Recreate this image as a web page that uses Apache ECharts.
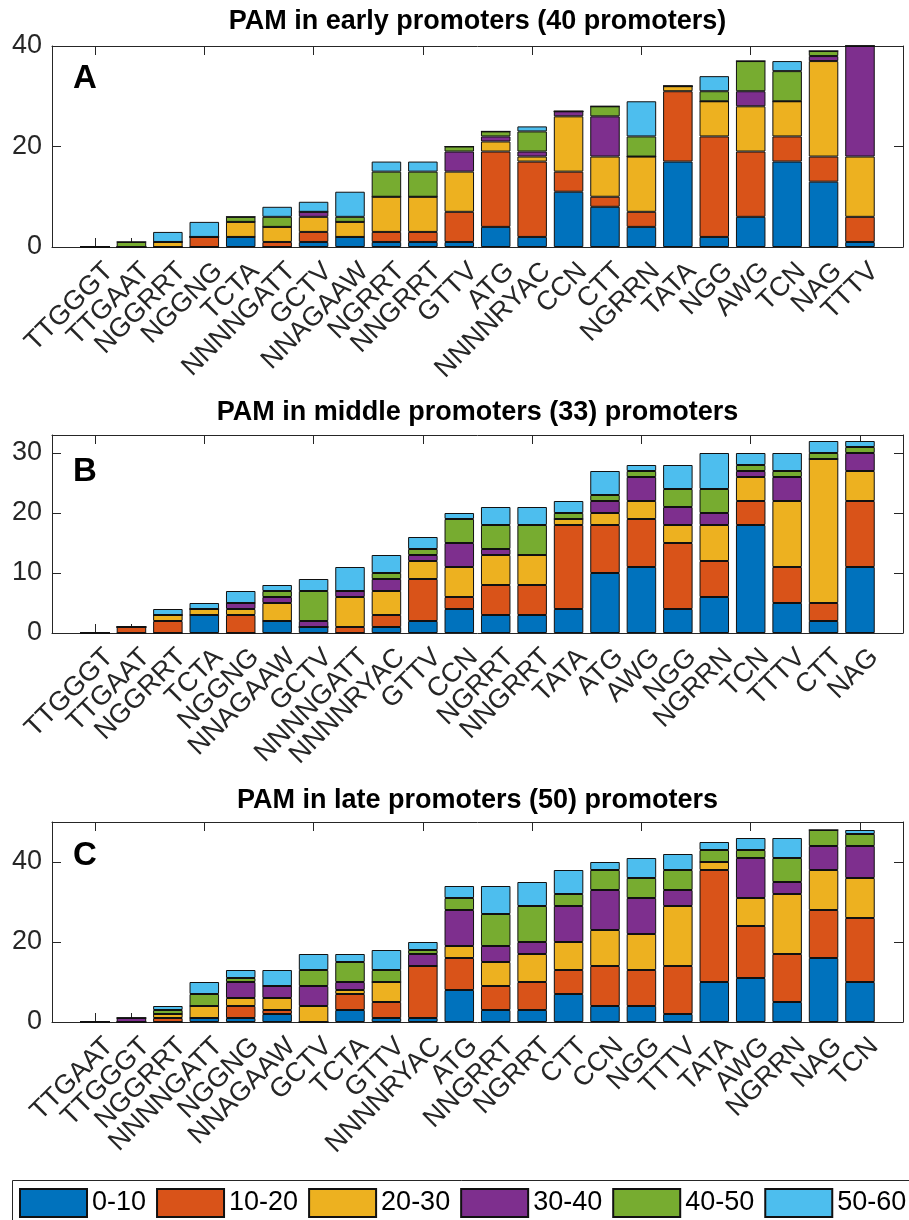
<!DOCTYPE html>
<html>
<head>
<meta charset="utf-8">
<script src="https://cdn.jsdelivr.net/npm/echarts@6/dist/echarts.min.js"></script>
<style>
html,body{margin:0;padding:0;background:#fff;}
#c{width:909px;height:1220px;}
</style>
</head>
<body>
<div id="c"></div>
<script>
// ---------- data ----------
const binNames = ['0-10', '10-20', '20-30', '30-40', '40-50', '50-60'];

const earlyCats = ['TTGGGT','TTGAAT','NGGRRT','NGGNG','TCTA','NNNNGATT','GCTV','NNAGAAW','NGRRT','NNGRRT','GTTV','ATG','NNNNRYAC','CCN','CTT','NGRRN','TATA','NGG','AWG','TCN','NAG','TTTV'];
const early_0_10  = [0,0,0,0,2,0,1,2,1,1,1,4,2,11,8,4,17,2,6,17,13,1];
const early_10_20 = [0,0,0,2,0,1,2,0,2,2,6,15,15,4,2,3,14,20,13,5,5,5];
const early_20_30 = [0,0,1,0,3,3,3,3,7,7,8,2,1,11,8,11,1,7,9,7,19,12];
const early_30_40 = [0,0,0,0,0,0,1,0,0,0,4,1,1,1,8,0,0,0,3,0,1,22];
const early_40_50 = [0,1,0,0,1,2,0,1,5,5,1,1,4,0,2,4,0,2,6,6,1,0];
const early_50_60 = [0,0,2,3,0,2,2,5,2,2,0,0,1,0,0,7,0,3,0,2,0,0];

const middleCats = ['TTGGGT','TTGAAT','NGGRRT','TCTA','NGGNG','NNAGAAW','GCTV','NNNNGATT','NNNNRYAC','GTTV','CCN','NGRRT','NNGRRT','TATA','ATG','AWG','NGG','NGRRN','TCN','TTTV','CTT','NAG'];
const middle_0_10  = [0,0,0,3,0,2,1,0,1,2,4,3,3,4,10,11,4,6,18,5,2,11];
const middle_10_20 = [0,1,2,0,3,0,0,1,2,7,2,5,5,14,8,8,11,6,4,6,3,11];
const middle_20_30 = [0,0,1,1,1,3,0,5,4,3,5,5,5,1,2,3,3,6,4,11,24,5];
const middle_30_40 = [0,0,0,0,1,1,1,1,2,1,4,1,0,0,2,4,3,2,1,4,0,3];
const middle_40_50 = [0,0,0,0,0,1,5,0,1,1,4,4,5,1,1,1,3,4,1,1,1,1];
const middle_50_60 = [0,0,1,1,2,1,2,4,3,2,1,3,3,2,4,1,4,6,2,3,2,1];

const lateCats = ['TTGAAT','TTGGGT','NGGRRT','NNNNGATT','NGGNG','NNAGAAW','GCTV','TCTA','GTTV','NNNNRYAC','ATG','NNGRRT','NGRRT','CTT','CCN','NGG','TTTV','TATA','AWG','NGRRN','NAG','TCN'];
const late_0_10  = [0,0,0,1,1,2,0,3,1,1,8,3,3,7,4,4,2,10,11,5,16,10];
const late_10_20 = [0,0,1,0,3,1,0,4,4,13,8,6,7,6,10,9,12,28,13,12,12,16];
const late_20_30 = [0,0,1,3,2,3,4,1,5,0,3,6,7,7,9,9,15,2,7,15,10,10];
const late_30_40 = [0,1,0,0,4,3,5,2,0,3,9,4,3,9,10,9,4,0,10,3,6,8];
const late_40_50 = [0,0,1,3,1,0,4,5,3,1,3,8,9,3,5,5,5,3,2,6,4,3];
const late_50_60 = [0,0,1,3,2,4,4,2,5,2,3,7,6,6,2,5,4,2,3,5,0,1];

const titles = ['PAM in early promoters (40 promoters)', 'PAM in middle promoters (33) promoters', 'PAM in late promoters (50) promoters'];
const letters = ['A', 'B', 'C'];
const yMax = [40, 33, 50];
const yStep = [20, 10, 20];

// ---------- styling / layout ----------
const colors = ['#0072BD', '#D95319', '#EDB120', '#7E2F8E', '#77AC30', '#4DBEEE'];
const FONT = 'Liberation Sans, Arial, Helvetica, sans-serif';
const AX = '#262626';
const panelCats = [earlyCats, middleCats, lateCats];
const panelBins = [
  [early_0_10, early_10_20, early_20_30, early_30_40, early_40_50, early_50_60],
  [middle_0_10, middle_10_20, middle_20_30, middle_30_40, middle_40_50, middle_50_60],
  [late_0_10, late_10_20, late_20_30, late_30_40, late_40_50, late_50_60]
];
const boxTop = [46, 435, 822];
const boxBottom = [247, 633, 1022];
const titleY = [22, 413, 801];
const letterY = [79, 472, 856];
const boxLeft = 52, boxRight = 903;
const dataLeft = 76.8, dataRight = 878.2;

const grid = [], xAxis = [], yAxis = [], series = [], graphic = [];

for (let p = 0; p < 3; p++) {
  const top = boxTop[p], h = boxBottom[p] - boxTop[p];
  const gF = grid.length;
  grid.push({left: boxLeft, width: boxRight - boxLeft, top: top, height: h, containLabel: false});
  const gD = grid.length;
  grid.push({left: dataLeft, width: dataRight - dataLeft, top: top, height: h, containLabel: false});

  ['bottom', 'top'].forEach(pos => {
    xAxis.push({gridIndex: gF, type: 'value', min: 0, max: 1, position: pos,
      axisLine: {show: true, onZero: false, lineStyle: {color: AX, width: 1}},
      axisTick: {show: false}, axisLabel: {show: false}, splitLine: {show: false}});
  });
  const xiBottom = xAxis.length;
  xAxis.push({gridIndex: gD, type: 'category', data: panelCats[p], position: 'bottom',
    axisLine: {show: false},
    axisTick: {show: true, inside: true, length: 9, alignWithLabel: true, lineStyle: {color: AX, width: 1}},
    axisLabel: {show: true, interval: 0, rotate: 45, fontSize: 27, fontFamily: FONT, color: AX, margin: 6,
      verticalAlign: 'top', lineHeight: 40},
    splitLine: {show: false}});
  xAxis.push({gridIndex: gD, type: 'category', data: panelCats[p], position: 'top',
    axisLine: {show: false},
    axisTick: {show: true, inside: true, length: 9, alignWithLabel: true, lineStyle: {color: AX, width: 1}},
    axisLabel: {show: false}, splitLine: {show: false}});

  const step = yStep[p];
  ['left', 'right'].forEach(pos => {
    yAxis.push({gridIndex: gF, type: 'value', min: 0, max: yMax[p], interval: step, position: pos,
      axisLine: {show: true, onZero: false, lineStyle: {color: AX, width: 1}},
      axisTick: {show: true, inside: true, length: 9, lineStyle: {color: AX, width: 1}},
      axisLabel: {show: pos === 'left', fontSize: 27, fontFamily: FONT, color: AX, margin: 10,
        formatter: v => (v % step === 0 ? String(v) : '')},
      splitLine: {show: false}});
  });
  const yiData = yAxis.length;
  yAxis.push({gridIndex: gD, type: 'value', min: 0, max: yMax[p], show: false, splitLine: {show: false}});

  panelBins[p].forEach((vals, b) => {
    series.push({type: 'bar', name: binNames[b], stack: 'p' + p, xAxisIndex: xiBottom, yAxisIndex: yiData,
      data: vals, barWidth: '81%',
      itemStyle: {color: colors[b], borderColor: '#111', borderWidth: 1}});
  });

  graphic.push({type: 'text', x: (boxLeft + boxRight) / 2, y: titleY[p],
    style: {text: titles[p], font: 'bold 27px ' + FONT, fill: '#000', textAlign: 'center', textVerticalAlign: 'middle'}});
  graphic.push({type: 'text', x: 85, y: letterY[p],
    style: {text: letters[p], font: 'bold 33px ' + FONT, fill: '#000', textAlign: 'center', textVerticalAlign: 'middle'}});
}

// legend frame (extends past the right/bottom edge as in the reference)
graphic.push({type: 'rect', shape: {x: 12.5, y: 1180.5, width: 920, height: 60},
  style: {fill: 'none', stroke: AX, lineWidth: 1}, z: 0});

const chart = echarts.init(document.getElementById('c'), null, {renderer: 'canvas'});
chart.setOption({
  animation: false,
  backgroundColor: '#fff',
  grid: grid, xAxis: xAxis, yAxis: yAxis, series: series, graphic: graphic,
  legend: {
    data: binNames, left: 12, top: 1181, width: 1100, orient: 'horizontal',
    icon: 'rect', itemWidth: 67, itemHeight: 28, itemGap: 10,
    padding: [7, 0, 20, 7],
    textStyle: {fontSize: 27, fontFamily: FONT, color: '#000'},
    selectedMode: false
  }
});
</script>
</body>
</html>
